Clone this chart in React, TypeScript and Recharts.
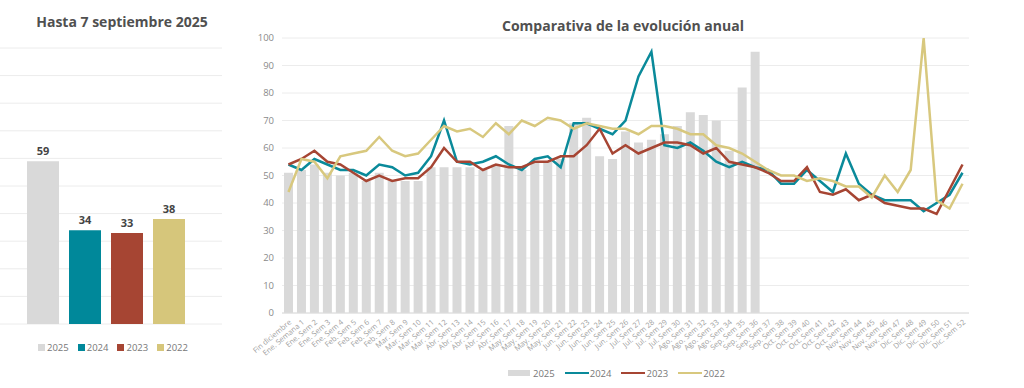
// Comparativa anual — weekly 2025 bars vs 2022-2024 lines, plus year-to-date totals
import {
  Bar,
  BarChart,
  CartesianGrid,
  Cell,
  ComposedChart,
  LabelList,
  Legend,
  Line,
  XAxis,
  YAxis,
} from 'recharts';

const FONT = '"Open Sans", Lato, sans-serif';

// left panel: totals up to 7 Sept
const years = ['2025', '2024', '2023', '2022'];
const yearColors = ['#D9D9D9', '#00889A', '#A64533', '#D6C67B'];
const totals = [59, 34, 33, 38];

// right panel: weekly values
const weeks = [
  'Fin diciembre', 'Ene. Semana 1', 'Ene. Sem 2', 'Ene. Sem 3', 'Ene. Sem 4',
  'Feb. Sem 5', 'Feb. Sem 6', 'Feb. Sem 7', 'Feb. Sem 8',
  'Mar. Sem 9', 'Mar. Sem 10', 'Mar. Sem 11', 'Mar. Sem 12',
  'Abr. Sem 13', 'Abr. Sem 14', 'Abr. Sem 15', 'Abr. Sem 16', 'Abr. Sem 17',
  'May. Sem 18', 'May. Sem 19', 'May. Sem 20', 'May. Sem 21',
  'Jun. Sem 22', 'Jun. Sem 23', 'Jun. Sem 24', 'Jun. Sem 25', 'Jun. Sem 26',
  'Jul. Sem 27', 'Jul. Sem 28', 'Jul. Sem 29', 'Jul. Sem 30',
  'Ago. Sem 31', 'Ago. Sem 32', 'Ago. Sem 33', 'Ago. Sem 34',
  'Sep. Sem 35', 'Sep. Sem 36', 'Sep. Sem 37', 'Sep. Sem 38',
  'Oct. Sem 39', 'Oct. Sem 40', 'Oct. Sem 41', 'Oct. Sem 42', 'Oct. Sem 43',
  'Nov. Sem 44', 'Nov. Sem 45', 'Nov. Sem 46', 'Nov. Sem 47',
  'Dic. Sem 48', 'Dic. Sem 49', 'Dic. Sem 50', 'Dic. Sem 51', 'Dic. Sem 52',
];
const s2025 = [
  51, 52, 54, 51, 50, 51, 48, 51, 48, 48, 48, 53, 53, 53, 53, 52, 54, 68,
  52, 55, 55, 56, 69, 71, 57, 56, 66, 62, 63, 65, 68, 73, 72, 70, 59, 82, 95,
];
const s2024 = [
  54, 52, 56, 54, 52, 52, 50, 54, 53, 50, 51, 57, 70, 55, 54, 55, 57, 54,
  52, 56, 57, 53, 69, 69, 67, 65, 70, 86, 95, 61, 60, 62, 59, 55, 53, 55,
  53, 52, 47, 47, 52, 48, 44, 58, 47, 43, 41, 41, 41, 37, 40, 43, 51,
];
const s2023 = [
  54, 56, 59, 55, 54, 51, 48, 50, 48, 49, 49, 53, 60, 55, 55, 52, 54, 53,
  53, 55, 55, 57, 57, 61, 67, 58, 61, 58, 60, 62, 62, 61, 58, 60, 55, 54,
  53, 51, 48, 48, 53, 44, 43, 45, 41, 43, 40, 39, 38, 38, 36, 45, 54,
];
const s2022 = [
  44, 56, 55, 49, 57, 58, 59, 64, 59, 57, 58, 63, 68, 66, 67, 64, 69, 65,
  70, 68, 71, 70, 67, 69, 68, 67, 67, 65, 68, 68, 67, 65, 65, 61, 60, 58,
  55, 52, 50, 50, 48, 49, 48, 46, 46, 42, 50, 44, 52, 100, 41, 38, 47,
];
const yTicks = [0, 10, 20, 30, 40, 50, 60, 70, 80, 90, 100];

const totalsData = years.map((year, i) => ({ year, value: totals[i] }));
const weeklyData = weeks.map((week, i) => ({
  week,
  y2025: i < s2025.length ? s2025[i] : null,
  y2024: s2024[i],
  y2023: s2023[i],
  y2022: s2022[i],
}));

function TotalsLegend() {
  return (
    <div
      style={{
        display: 'flex',
        alignItems: 'center',
        height: 14,
        paddingLeft: 38,
        fontFamily: FONT,
        fontSize: 9.5,
        color: '#777',
      }}
    >
      {years.map((y, i) => (
        <span key={y} style={{ display: 'flex', alignItems: 'center', marginRight: 9 }}>
          <span style={{ width: 7, height: 7, background: yearColors[i], marginRight: 2 }} />
          {y}
        </span>
      ))}
    </div>
  );
}

function WeeklyLegend(props: any) {
  // keep 2025 → 2022 order whatever order recharts hands the payload in
  const items = [...(props.payload ?? [])].sort(
    (a: any, b: any) => years.indexOf(a.value) - years.indexOf(b.value),
  );
  return (
    <div
      style={{
        display: 'flex',
        alignItems: 'center',
        height: 14,
        paddingLeft: 268,
        fontFamily: FONT,
        fontSize: 9.5,
        color: '#777',
      }}
    >
      {items.map((it: any) => (
        <span key={it.value} style={{ display: 'flex', alignItems: 'center', marginRight: 10 }}>
          {it.type === 'rect' ? (
            <span style={{ width: 22, height: 6, background: it.color, marginRight: 3 }} />
          ) : (
            <span style={{ width: 24, height: 2.5, background: it.color, marginRight: 1 }} />
          )}
          {it.value}
        </span>
      ))}
    </div>
  );
}

export default function App() {
  return (
    <div
      style={{
        position: 'absolute',
        left: 0,
        top: 0,
        width: 1024,
        height: 388,
        background: '#fff',
        fontFamily: FONT,
      }}
    >
      <div
        style={{
          position: 'absolute',
          left: 0,
          top: 12,
          width: 244,
          textAlign: 'center',
          fontSize: 14,
          fontWeight: 700,
          color: '#505050',
        }}
      >
        Hasta 7 septiembre 2025
      </div>
      <div
        style={{
          position: 'absolute',
          left: 423,
          top: 16,
          width: 400,
          textAlign: 'center',
          fontSize: 14,
          fontWeight: 700,
          color: '#505050',
        }}
      >
        Comparativa de la evolución anual
      </div>

      <div style={{ position: 'absolute', left: 0, top: 0 }}>
        <BarChart width={225} height={388} data={totalsData} margin={{ top: 48, right: 3, bottom: 34, left: 0 }}>
          <CartesianGrid vertical={false} stroke="#ececec" />
          <XAxis
            dataKey="year"
            tick={false}
            axisLine={false}
            tickLine={false}
            height={16}
            padding={{ left: 22, right: 32 }}
          />
          <YAxis hide domain={[0, 100]} ticks={yTicks} />
          <Legend verticalAlign="bottom" content={<TotalsLegend />} wrapperStyle={{ left: 0, width: 225 }} />
          <Bar dataKey="value" barSize={32} isAnimationActive={false}>
            {totalsData.map((d, i) => (
              <Cell key={d.year} fill={yearColors[i]} />
            ))}
            <LabelList
              dataKey="value"
              position="top"
              offset={6}
              style={{ fontSize: 11, fontWeight: 700, fill: '#444', fontFamily: FONT }}
            />
          </Bar>
        </BarChart>
      </div>

      <div style={{ position: 'absolute', left: 240, top: 0 }}>
        <ComposedChart width={784} height={388} data={weeklyData} margin={{ top: 38, right: 55, bottom: 8, left: 2 }}>
          <CartesianGrid vertical={false} stroke="#ececec" />
          <XAxis
            dataKey="week"
            interval={0}
            height={53}
            tickLine={false}
            tickSize={4}
            axisLine={{ stroke: '#dcdcdc' }}
            angle={-40}
            textAnchor="end"
            tick={{ fontSize: 7.5, fill: '#a0a0a0', fontFamily: FONT }}
          />
          <YAxis
            width={40}
            domain={[0, 100]}
            ticks={yTicks}
            axisLine={false}
            tickLine={false}
            tick={{ fontSize: 9.5, fill: '#8a8a8a', fontFamily: FONT }}
          />
          <Legend verticalAlign="bottom" content={<WeeklyLegend />} wrapperStyle={{ left: 0, width: 784 }} />
          <Bar dataKey="y2025" name="2025" fill="#D9D9D9" barSize={9} legendType="rect" isAnimationActive={false} />
          <Line type="linear" dataKey="y2024" name="2024" stroke="#0A8A9A" strokeWidth={2.5} dot={false} legendType="plainline" isAnimationActive={false} />
          <Line type="linear" dataKey="y2023" name="2023" stroke="#A64533" strokeWidth={2.5} dot={false} legendType="plainline" isAnimationActive={false} />
          <Line type="linear" dataKey="y2022" name="2022" stroke="#D8C87E" strokeWidth={2.5} dot={false} legendType="plainline" isAnimationActive={false} />
        </ComposedChart>
      </div>
    </div>
  );
}
